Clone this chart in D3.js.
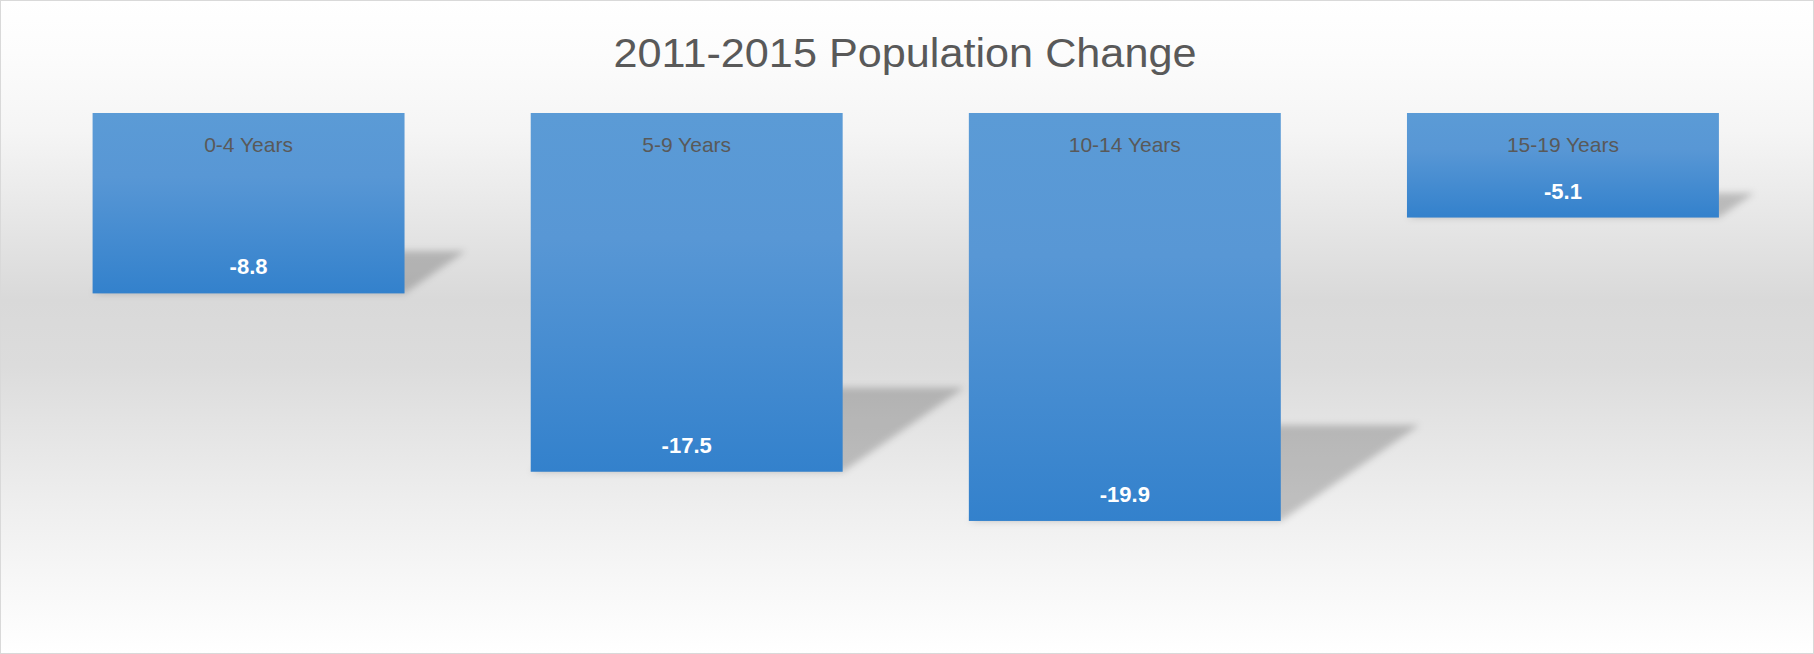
<!DOCTYPE html>
<html>
<head>
<meta charset="utf-8">
<script src="https://cdn.jsdelivr.net/npm/d3@7"></script>
<style>
html,body{margin:0;padding:0;background:#fff;}
svg{display:block;}
</style>
</head>
<body>
<svg id="chart" width="1814" height="654"></svg>
<script>
const categories = ["0-4 Years", "5-9 Years", "10-14 Years", "15-19 Years"];
const values = [-8.8, -17.5, -19.9, -5.1];
const valueLabels = ["-8.8", "-17.5", "-19.9", "-5.1"];
const title = "2011-2015 Population Change";

const W = 1814, H = 654;
const svg = d3.select("#chart");
const defs = svg.append("defs");

// background gradient
const bg = defs.append("linearGradient").attr("id","bgGrad").attr("x1",0).attr("y1",0).attr("x2",0).attr("y2",1);
[[0,"#ffffff"],[0.08,"#fcfcfc"],[0.2,"#f5f5f5"],[0.46,"#d9d9d9"],[0.56,"#dcdcdc"],[0.77,"#eeeeee"],[0.9,"#f8f8f8"],[1,"#ffffff"]]
  .forEach(([o,c]) => bg.append("stop").attr("offset",o).attr("stop-color",c));

const barGrad = defs.append("linearGradient").attr("id","barGrad").attr("x1",0).attr("y1",0).attr("x2",0).attr("y2",1);
[[0,"#5b9bd6"],[0.35,"#5897d5"],[1,"#3381cc"]]
  .forEach(([o,c]) => barGrad.append("stop").attr("offset",o).attr("stop-color",c));

const blur = defs.append("filter").attr("id","shadowBlur").attr("x","-20%").attr("y","-50%").attr("width","140%").attr("height","200%");
blur.append("feGaussianBlur").attr("stdDeviation",3.5);

svg.append("rect").attr("x",0.5).attr("y",0.5).attr("width",W-1).attr("height",H-1)
  .attr("fill","url(#bgGrad)").attr("stroke","#d9d9d9").attr("stroke-width",1);

const x = d3.scaleBand().domain(categories).range([29.5, 1782]).paddingInner(0.288).paddingOuter(0.144);
const y = d3.scaleLinear().domain([-25, 0]).range([625.5, 113]);

const data = categories.map((c,i) => ({c, v: values[i], lab: valueLabels[i]}));

// perspective shadows
const kx = 0.34, sy = 0.235;
svg.append("g").selectAll("path").data(data).join("path")
  .attr("d", d => {
    const x0 = x(d.c), x1 = x0 + x.bandwidth();
    const yt = y(0), yb = y(d.v), h = yb - yt;
    return `M${x0},${yb}L${x1},${yb}L${x1 + kx*h},${yb - sy*h}L${x0 + kx*h},${yb - sy*h}Z`;
  })
  .attr("fill","#000").attr("fill-opacity",0.2).attr("filter","url(#shadowBlur)");

// bars
svg.append("g").selectAll("rect").data(data).join("rect")
  .attr("x", d => x(d.c)).attr("y", y(0))
  .attr("width", x.bandwidth()).attr("height", d => y(d.v) - y(0))
  .attr("fill","url(#barGrad)");

// category labels
svg.append("g").selectAll("text").data(data).join("text")
  .attr("x", d => x(d.c) + x.bandwidth()/2).attr("y", y(0) + 39.3)
  .attr("text-anchor","middle").attr("font-family","'Liberation Sans', Arial, sans-serif")
  .attr("font-size",21).attr("fill","#595959").text(d => d.c);

// value labels
svg.append("g").selectAll("text").data(data).join("text")
  .attr("x", d => x(d.c) + x.bandwidth()/2).attr("y", d => y(d.v) - 19)
  .attr("text-anchor","middle").attr("font-family","'Liberation Sans', Arial, sans-serif")
  .attr("font-size",22).attr("font-weight","bold").attr("fill","#ffffff").text(d => d.lab);

// title
svg.append("text").attr("x", 905).attr("y", 66.5).attr("text-anchor","middle")
  .attr("font-family","'Liberation Sans', Arial, sans-serif").attr("font-size",41)
  .attr("textLength",583).attr("lengthAdjust","spacingAndGlyphs")
  .attr("fill","#595959").text(title);
</script>
</body>
</html>
